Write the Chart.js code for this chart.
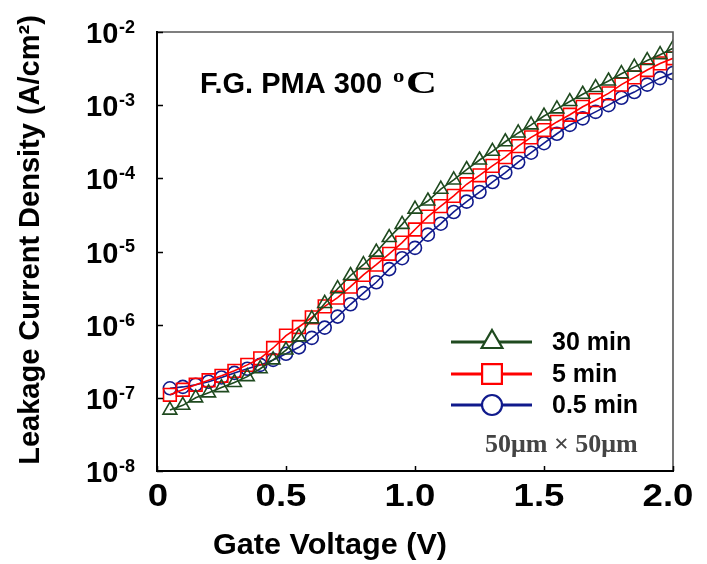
<!DOCTYPE html>
<html>
<head>
<meta charset="utf-8">
<script src="https://cdn.jsdelivr.net/npm/chart.js@4/dist/chart.umd.min.js"></script>
<style>
  html, body { margin: 0; padding: 0; background: #fff; }
  canvas { display: block; }
</style>
</head>
<body>
<canvas id="chart" width="707" height="564"></canvas>
<script>
// gate voltage (V), one point every 0.05 V
const voltage = [
  0.05, 0.10, 0.15, 0.20, 0.25, 0.30, 0.35, 0.40, 0.45, 0.50,
  0.55, 0.60, 0.65, 0.70, 0.75, 0.80, 0.85, 0.90, 0.95, 1.00,
  1.05, 1.10, 1.15, 1.20, 1.25, 1.30, 1.35, 1.40, 1.45, 1.50,
  1.55, 1.60, 1.65, 1.70, 1.75, 1.80, 1.85, 1.90, 1.95, 2.00
];

// leakage current density (A/cm2)
const pma30min = [
  6.8e-8, 7.9e-8, 1.0e-7, 1.17e-7, 1.38e-7, 1.62e-7, 1.95e-7, 2.5e-7, 3.3e-7, 4.5e-7,
  6.8e-7, 1.2e-6, 1.95e-6, 3.1e-6, 4.7e-6, 6.6e-6, 9.8e-6, 1.55e-5, 2.35e-5, 3.8e-5,
  4.9e-5, 7.1e-5, 9.5e-5, 1.32e-4, 1.78e-4, 2.34e-4, 3.16e-4, 4.17e-4, 5.37e-4, 7.1e-4,
  8.9e-4, 1.12e-3, 1.41e-3, 1.74e-3, 2.14e-3, 2.69e-3, 3.31e-3, 4.07e-3, 4.9e-3, 6.0e-3
];
const pma5min = [
  1.1e-7, 1.29e-7, 1.51e-7, 1.74e-7, 2.0e-7, 2.34e-7, 2.82e-7, 3.47e-7, 4.8e-7, 7.1e-7,
  9.3e-7, 1.26e-6, 1.78e-6, 2.34e-6, 3.31e-6, 4.8e-6, 6.6e-6, 9.3e-6, 1.32e-5, 2.0e-5,
  3.0e-5, 4.17e-5, 5.75e-5, 8.3e-5, 1.1e-4, 1.48e-4, 1.95e-4, 2.75e-4, 3.63e-4, 4.57e-4,
  5.9e-4, 7.4e-4, 9.5e-4, 1.17e-3, 1.45e-3, 1.91e-3, 2.4e-3, 3.02e-3, 3.72e-3, 4.37e-3
];
const pma05min = [
  1.35e-7, 1.41e-7, 1.51e-7, 1.66e-7, 1.9e-7, 2.19e-7, 2.5e-7, 2.82e-7, 3.3e-7, 4.0e-7,
  4.9e-7, 6.6e-7, 9.1e-7, 1.29e-6, 1.9e-6, 2.7e-6, 3.8e-6, 5.75e-6, 8.1e-6, 1.12e-5,
  1.7e-5, 2.4e-5, 3.47e-5, 4.8e-5, 6.5e-5, 8.9e-5, 1.2e-4, 1.66e-4, 2.24e-4, 3.02e-4,
  4.07e-4, 5.37e-4, 6.6e-4, 8.1e-4, 1.0e-3, 1.26e-3, 1.51e-3, 1.91e-3, 2.34e-3, 2.75e-3
];

const seriesNames = ['30 min', '5 min', '0.5 min'];
const yTicks = [1e-8, 1e-7, 1e-6, 1e-5, 1e-4, 1e-3, 1e-2];
const xTicks = [0, 0.5, 1.0, 1.5, 2.0];

const SANS = '"Liberation Sans", Arial, sans-serif';
const SERIF = '"Liberation Serif", "Times New Roman", serif';

const toPoints = (ys) => voltage.map((v, i) => ({ x: v, y: ys[i] }));

const makeSet = (label, ys, color, style, radius, legendRadius) => ({
  label: label,
  data: toPoints(ys),
  borderColor: color,
  backgroundColor: 'rgba(0,0,0,0)',
  borderWidth: 1.6,
  pointStyle: style,
  pointRadius: radius,
  pointBorderWidth: 1.6,
  pointBorderColor: color,
  pointBackgroundColor: 'rgba(0,0,0,0)',
  legendRadius: legendRadius,
  tension: 0
});

// text squeezed or widened sideways, like the original figure
const wideText = (ctx, text, x, y, sx) => {
  ctx.save();
  ctx.translate(x, y);
  ctx.scale(sx, 1);
  ctx.fillText(text, 0, 0);
  ctx.restore();
};

// frame, inner ticks, tick labels, titles, note and legend
const decorations = {
  id: 'decorations',
  beforeDraw: (chart) => {
    const ctx = chart.ctx;
    ctx.save();
    ctx.fillStyle = '#ffffff';
    ctx.fillRect(0, 0, chart.width, chart.height);
    ctx.restore();
  },
  afterDraw: (chart) => {
    const { ctx, chartArea: a, scales } = chart;
    const x = scales.x, y = scales.y;
    ctx.save();

    // frame
    ctx.lineCap = 'square';
    ctx.strokeStyle = '#555';
    ctx.lineWidth = 1.6;
    ctx.beginPath();
    ctx.moveTo(a.left, a.top);
    ctx.lineTo(a.right, a.top);
    ctx.lineTo(a.right, a.bottom);
    ctx.stroke();
    ctx.strokeStyle = '#000';
    ctx.lineWidth = 2;
    ctx.beginPath();
    ctx.moveTo(a.left, a.top);
    ctx.lineTo(a.left, a.bottom);
    ctx.lineTo(a.right, a.bottom);
    ctx.stroke();

    // inner ticks
    ctx.lineWidth = 1.5;
    ctx.lineCap = 'butt';
    ctx.beginPath();
    for (const t of y.ticks) {
      const py = Math.round(y.getPixelForValue(t.value)) + 0.5;
      ctx.moveTo(a.left, py);
      ctx.lineTo(a.left + 6, py);
    }
    for (const t of x.ticks) {
      const px = Math.round(x.getPixelForValue(t.value)) + 0.5;
      ctx.moveTo(px, a.bottom);
      ctx.lineTo(px, a.bottom - 5);
    }
    ctx.stroke();

    // y tick labels as 10 with exponent
    ctx.fillStyle = '#000';
    ctx.textAlign = 'left';
    ctx.textBaseline = 'middle';
    for (const t of y.ticks) {
      const py = y.getPixelForValue(t.value);
      const exp = Math.round(Math.log10(t.value));
      ctx.font = 'bold 29px ' + SANS;
      ctx.fillText('10', 86, py + 3);
      ctx.font = 'bold 18px ' + SANS;
      ctx.fillText(String(exp), 119, py - 4);
    }

    // x tick labels
    ctx.textAlign = 'center';
    ctx.font = 'bold 31px ' + SANS;
    for (const t of x.ticks) {
      const px = x.getPixelForValue(t.value);
      const txt = t.value === 0 ? '0' : t.value.toFixed(1);
      wideText(ctx, txt, t.value === 0 ? px + 1 : px - 5, 497, 1.18);
    }

    // axis titles
    ctx.font = 'bold 30px ' + SANS;
    wideText(ctx, 'Gate Voltage (V)', 330, 546, 1.02);
    ctx.save();
    ctx.translate(31, 240);
    ctx.rotate(-Math.PI / 2);
    ctx.font = 'bold 29px ' + SANS;
    ctx.fillText('Leakage Current Density (A/cm\u00B2)', 0, 0);
    ctx.restore();

    // note in the upper left
    ctx.textAlign = 'left';
    ctx.textBaseline = 'alphabetic';
    ctx.font = 'bold 29px ' + SANS;
    ctx.fillText('F.G. PMA 300', 200, 93);
    ctx.font = 'bold 19px ' + SERIF;
    wideText(ctx, 'o', 393, 82, 1.2);
    ctx.font = 'bold 31px ' + SERIF;
    wideText(ctx, 'C', 406, 93, 1.38);

    // legend
    const rows = [342, 374, 405];
    chart.data.datasets.forEach((ds, i) => {
      const ly = rows[i];
      ctx.strokeStyle = ds.borderColor;
      ctx.lineWidth = 3;
      ctx.beginPath();
      ctx.moveTo(451, ly);
      ctx.lineTo(532, ly);
      ctx.stroke();
      ctx.fillStyle = '#fff';
      ctx.lineWidth = 2.2;
      Chart.helpers.drawPoint(ctx, {
        pointStyle: ds.pointStyle,
        radius: ds.legendRadius,
        rotation: 0,
        borderWidth: 2.2
      }, 492, ly);
      ctx.fillStyle = '#000';
      ctx.textBaseline = 'middle';
      ctx.font = 'bold 25px ' + SANS;
      ctx.fillText(ds.label, 552, ly + 1);
    });
    ctx.fillStyle = '#444';
    ctx.textBaseline = 'middle';
    ctx.font = 'bold 26px ' + SERIF;
    ctx.fillText('50\u03BCm \u00D7 50\u03BCm', 485, 445);

    ctx.restore();
  }
};

new Chart(document.getElementById('chart'), {
  type: 'line',
  data: {
    datasets: [
      makeSet(seriesNames[0], pma30min, '#1f4a1f', 'triangle', 8, 12),
      makeSet(seriesNames[1], pma5min, '#ff0000', 'rect', 9, 14),
      makeSet(seriesNames[2], pma05min, '#101a8c', 'circle', 6.5, 10)
    ]
  },
  options: {
    responsive: false,
    animation: false,
    devicePixelRatio: 1,
    layout: { padding: { top: 32, right: 34, left: 0, bottom: 0 } },
    plugins: {
      legend: { display: false },
      tooltip: { enabled: false }
    },
    scales: {
      x: {
        type: 'linear',
        min: 0,
        max: 2,
        afterBuildTicks: (s) => { s.ticks = xTicks.map((v) => ({ value: v })); },
        afterFit: (s) => { s.height = 93; },
        grid: { display: false },
        border: { display: false },
        ticks: { display: false }
      },
      y: {
        type: 'logarithmic',
        min: 1e-8,
        max: 1e-2,
        afterBuildTicks: (s) => { s.ticks = yTicks.map((v) => ({ value: v })); },
        afterFit: (s) => { s.width = 157; },
        grid: { display: false },
        border: { display: false },
        ticks: { display: false }
      }
    }
  },
  plugins: [decorations]
});
</script>
</body>
</html>
